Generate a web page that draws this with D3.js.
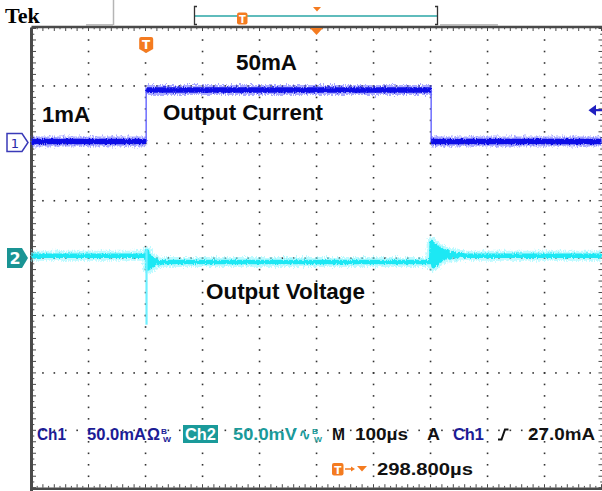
<!DOCTYPE html>
<html>
<head>
<meta charset="utf-8">
<script src="https://cdn.jsdelivr.net/npm/d3@7"></script>
<style>
  html, body { margin: 0; padding: 0; background: #fff; }
  svg { display: block; }
</style>
</head>
<body>
<svg id="scope" width="602" height="491"></svg>
<script>
// ---- acquisition settings ----
const timePerDiv = 100;        // µs per division
const triggerDelay = 298.8;    // µs from trigger point to screen centre
const ch1PerDiv = 50;          // mA per division
const ch2PerDiv = 50;          // mV per division
const triggerLevel = 27;       // mA

// ---- Ch1: load current (mA) vs time from trigger (µs) ----
const ch1Time    = [-201.2, 0, 0, 500, 500, 798.8];
const ch1Current = [1, 1, 50, 50, 1, 1];

// ---- Ch2: output voltage deviation (mV) vs time from trigger (µs) ----
const ch2Time    = [-201.2, 0, 1.5, 3, 5, 7, 10, 13, 17, 22, 30, 500, 501, 504, 507, 510, 513, 516, 520, 524, 528, 533, 538, 544, 550, 560, 798.8];
const ch2Voltage = [2, 2, 6, -9, 2, -8, 0, -6, -2, -4.5, -3.5, -3.5, 14, -7, 11, -5, 9, -2, 7, 0, 6, 0.5, 4.5, 1, 3.5, 2, 2];

// narrow glitch on the rising load edge: time, lowest and highest excursion (mV)
const ch2GlitchTime = [0.6];
const ch2GlitchLow  = [-58];
const ch2GlitchHigh = [8];

const svg = d3.select("#scope");
const W = 602, H = 491;
svg.append("rect").attr("width", W).attr("height", H).attr("fill", "#fff");

// graticule frame: 10 x 8 divisions
const frameL = 31.5, frameR = 601.5, frameT = 28.5, frameB = 487.7;
const gx = d3.scaleLinear().domain([0, 10]).range([frameL, frameR]);
const gy = d3.scaleLinear().domain([0, 8]).range([frameT, frameB]);

// time axis (µs relative to trigger)
const x = d3.scaleLinear()
  .domain([triggerDelay - 5 * timePerDiv, triggerDelay + 5 * timePerDiv])
  .range([frameL, frameR]);
// Ch1 vertical scale (mA), reference marker on division 2
const y1 = d3.scaleLinear().domain([0, ch1Current[2]]).range([142.5, 90]);
// Ch2 vertical scale (mV), reference marker on centre line
const y2 = d3.scaleLinear().domain([0, ch2PerDiv]).range([gy(4), gy(3)]);

const defs = svg.append("defs");
function fuzz(id, freq, scale, seed) {
  const f = defs.append("filter").attr("id", id)
    .attr("filterUnits", "userSpaceOnUse")
    .attr("x", 0).attr("y", 0).attr("width", W).attr("height", H);
  f.append("feTurbulence").attr("type", "fractalNoise")
    .attr("baseFrequency", freq).attr("numOctaves", 2).attr("seed", seed).attr("result", "n");
  f.append("feDisplacementMap").attr("in", "SourceGraphic").attr("in2", "n")
    .attr("scale", scale).attr("xChannelSelector", "R").attr("yChannelSelector", "G");
}
fuzz("fuzzWide", "0.9 0.35", 7, 4);
fuzz("fuzzCore", "0.9 0.5", 3.5, 9);

// ---- graticule dots ----
const grid = svg.append("g").attr("fill", "#333");
for (let k = 1; k <= 9; k++) {
  for (let j = 1; j < 40; j++) {
    grid.append("rect").attr("x", gx(k) - 0.75).attr("y", gy(j / 5) - 0.75)
      .attr("width", 1.6).attr("height", 1.6);
  }
}
for (let k = 1; k <= 7; k++) {
  for (let j = 1; j < 50; j++) {
    grid.append("rect").attr("x", gx(j / 5) - 0.75).attr("y", gy(k) - 0.75)
      .attr("width", 1.6).attr("height", 1.6);
  }
}

// ---- frame and edge ticks ----
const frame = svg.append("g").attr("stroke", "#4a4a4a");
frame.append("line").attr("x1", frameL).attr("x2", frameL).attr("y1", frameT - 1).attr("y2", H).attr("stroke-width", 3);
frame.append("line").attr("x1", frameL).attr("x2", W).attr("y1", frameT - 1.5).attr("y2", frameT - 1.5).attr("stroke-width", 2.5);
frame.append("line").attr("x1", frameL).attr("x2", W).attr("y1", frameB + 1).attr("y2", frameB + 1).attr("stroke-width", 2.5);
for (let j = 0; j <= 100; j++) {
  const len = j % 2 === 0 ? 3.5 : 1.8;
  const xx = gx(j / 10);
  frame.append("line").attr("x1", xx).attr("x2", xx).attr("y1", frameT - 1).attr("y2", frameT - 1 + len).attr("stroke-width", 1);
  frame.append("line").attr("x1", xx).attr("x2", xx).attr("y1", frameB).attr("y2", frameB - len).attr("stroke-width", 1);
}
for (let j = 0; j <= 80; j++) {
  const len = j % 2 === 0 ? 3.5 : 1.8;
  const yy = gy(j / 10);
  frame.append("line").attr("x1", frameL + 1).attr("x2", frameL + 1 + len).attr("y1", yy).attr("y2", yy).attr("stroke-width", 1);
  frame.append("line").attr("x1", W).attr("x2", W - len).attr("y1", yy).attr("y2", yy).attr("stroke-width", 1);
}

// ---- header ----
svg.append("text").attr("x", 5).attr("y", 23)
  .attr("font-family", "Liberation Serif, Times New Roman, serif").attr("font-weight", "bold")
  .attr("font-size", 22).attr("fill", "#000").text("Tek");
svg.append("line").attr("x1", 113.5).attr("x2", 113.5).attr("y1", 0).attr("y2", 25)
  .attr("stroke", "#b5b5b5").attr("stroke-width", 1.5);
svg.append("line").attr("x1", 86).attr("x2", 113).attr("y1", 25).attr("y2", 25)
  .attr("stroke", "#aaa").attr("stroke-width", 1.5);
svg.append("line").attr("x1", 440).attr("x2", 498).attr("y1", 25).attr("y2", 25)
  .attr("stroke", "#aaa").attr("stroke-width", 1.5);

const orange = "#f47b20";
const teal = "#1a9a9a";

// record view bar
const rec = svg.append("g");
rec.append("line").attr("x1", 195).attr("x2", 437).attr("y1", 16).attr("y2", 16)
  .attr("stroke", "#2aa6a6").attr("stroke-width", 1.5);
rec.append("path").attr("d", "M197,6.5 H194.5 V24.5 H197").attr("fill", "none")
  .attr("stroke", "#333").attr("stroke-width", 1.3);
rec.append("path").attr("d", "M435,6.5 H437.5 V24.5 H435").attr("fill", "none")
  .attr("stroke", "#333").attr("stroke-width", 1.3);
rec.append("rect").attr("x", 237).attr("y", 12.5).attr("width", 10.5).attr("height", 12)
  .attr("rx", 2).attr("fill", orange);
rec.append("text").attr("x", 242.3).attr("y", 22.5).attr("text-anchor", "middle")
  .attr("font-family", "DejaVu Sans, sans-serif").attr("font-weight", "bold")
  .attr("font-size", 10).attr("fill", "#fff").text("T");
rec.append("path").attr("d", "M313,7 L321,7 L317,11.5 Z").attr("fill", orange);

// trigger position marker on the top edge
svg.append("path").attr("d", `M${gx(5) - 6.5},28 L${gx(5) + 6.5},28 L${gx(5)},35 Z`).attr("fill", orange);

// trigger point badge over the waveform area
const tx = x(0);
svg.append("path")
  .attr("d", `M${tx - 7},39 Q${tx - 7},37 ${tx - 5},37 H${tx + 5} Q${tx + 7},37 ${tx + 7},39 V49 L${tx},53 L${tx - 7},49 Z`)
  .attr("fill", orange);
svg.append("text").attr("x", tx).attr("y", 49).attr("text-anchor", "middle")
  .attr("font-family", "DejaVu Sans, sans-serif").attr("font-weight", "bold")
  .attr("font-size", 12).attr("fill", "#fff").text("T");

// ---- Ch2 trace ----
const ch2Pts = ch2Time.map((t, i) => [x(t), y2(ch2Voltage[i])]);
const line = d3.line();
const tr2 = svg.append("g").attr("fill", "none").attr("stroke-linejoin", "round");
tr2.append("path").attr("d", line(ch2Pts)).attr("stroke", "#8af7ff")
  .attr("stroke-width", 10).attr("opacity", 0.55).attr("filter", "url(#fuzzWide)");
tr2.append("path").attr("d", line(ch2Pts)).attr("stroke", "#1ae8f4")
  .attr("stroke-width", 4.5).attr("filter", "url(#fuzzCore)");
ch2GlitchTime.forEach((t, i) => {
  tr2.append("line").attr("x1", x(t)).attr("x2", x(t))
    .attr("y1", y2(ch2GlitchHigh[i])).attr("y2", y2(ch2GlitchLow[i]))
    .attr("stroke", "#6ff0ff").attr("stroke-width", 2.2);
});

// ---- Ch1 trace ----
const ch1Pts = ch1Time.map((t, i) => [x(t), y1(ch1Current[i])]);
const tr1 = svg.append("g").attr("fill", "none");
tr1.append("path").attr("d", line(ch1Pts)).attr("stroke", "#7777ff").attr("stroke-width", 1.6);
const runs = [];
for (let i = 0; i < ch1Pts.length - 1; i++) {
  if (ch1Current[i] === ch1Current[i + 1]) runs.push([ch1Pts[i], ch1Pts[i + 1]]);
}
runs.forEach(seg => {
  tr1.append("path").attr("d", line(seg)).attr("stroke", "#5a5aff")
    .attr("stroke-width", 10).attr("opacity", 0.5).attr("filter", "url(#fuzzWide)");
  tr1.append("path").attr("d", line(seg)).attr("stroke", "#1010e6")
    .attr("stroke-width", 5.5).attr("filter", "url(#fuzzCore)");
});

// ---- channel reference markers ----
const m1y = y1(0);
svg.append("path").attr("d", `M7,${m1y - 9} H22 L28,${m1y} L22,${m1y + 9} H7 Z`)
  .attr("fill", "#fff").attr("stroke", "#3a3ab8").attr("stroke-width", 1.5);
svg.append("text").attr("x", 15).attr("y", m1y + 5).attr("text-anchor", "middle")
  .attr("font-family", "DejaVu Sans, sans-serif").attr("font-size", 13)
  .attr("fill", "#2a2aa8").text("1");
const m2y = y2(0);
svg.append("path").attr("d", `M7,${m2y - 10} H22 L28,${m2y} L22,${m2y + 10} H7 Z`)
  .attr("fill", "#1a9494");
svg.append("text").attr("x", 15).attr("y", m2y + 6).attr("text-anchor", "middle")
  .attr("font-family", "DejaVu Sans, sans-serif").attr("font-weight", "bold")
  .attr("font-size", 16).attr("fill", "#fff").text("2");

// trigger level arrow on the right edge
const tly = y1(triggerLevel) - 4;
svg.append("path").attr("d", `M588.5,${tly} L596,${tly - 5.5} L596,${tly + 5.5} Z`).attr("fill", "#2020c0");
svg.append("line").attr("x1", 594).attr("x2", 602).attr("y1", tly).attr("y2", tly)
  .attr("stroke", "#2020c0").attr("stroke-width", 2.2);

// ---- annotations ----
const ann = svg.append("g").attr("font-family", "Liberation Sans, Arial, sans-serif")
  .attr("font-weight", "bold").attr("font-size", 21.5).attr("fill", "#0a0a0a");
function note(x0, y0, s, len) {
  ann.append("text").attr("x", x0).attr("y", y0)
    .attr("textLength", len).attr("lengthAdjust", "spacingAndGlyphs").text(s);
}
note(236, 70, "50mA", 61);
note(42, 122, "1mA", 48);
note(163, 120, "Output Current", 160);
note(206, 299, "Output Voltage", 159);

// ---- status readout ----
const st = svg.append("g").attr("font-family", "Liberation Sans, Arial, sans-serif")
  .attr("font-size", 16).attr("font-weight", "bold");
function txt(x0, y0, s, color, len, size) {
  const t = st.append("text").attr("x", x0).attr("y", y0).attr("fill", color).text(s);
  if (len) t.attr("textLength", len).attr("lengthAdjust", "spacingAndGlyphs");
  if (size) t.attr("font-size", size);
  return t;
}
const blue = "#1c1c96";
txt(37, 440, "Ch1", blue, 29);
txt(87, 440, "50.0mA", blue, 59);
txt(147, 440, "Ω", blue, 13);
txt(161, 434, "B", blue, 6, 8);
txt(163, 442, "W", blue, 8, 8);
st.append("rect").attr("x", 183).attr("y", 425).attr("width", 35).attr("height", 18).attr("fill", teal);
txt(185, 440, "Ch2", "#fff", 31);
txt(233, 440, "50.0mV", teal, 64);
txt(299, 440, "∿", teal, 11);
txt(312, 434, "B", teal, 6, 8);
txt(314, 442, "W", teal, 8, 8);
txt(332, 440, "M", "#111", 13);
txt(355, 440, "100µs", "#111", 53);
txt(427, 440, "A", "#111", 13);
txt(453, 440, "Ch1", blue, 31);
st.append("path").attr("d", "M498,439.5 H501.5 L505,429.5 H508.5").attr("fill", "none")
  .attr("stroke", "#111").attr("stroke-width", 2);
txt(528, 440, "27.0mA", "#111", 67);

// trigger delay readout
st.append("rect").attr("x", 332).attr("y", 463).attr("width", 11.5).attr("height", 12.5)
  .attr("rx", 2).attr("fill", orange);
st.append("text").attr("x", 337.8).attr("y", 473.5).attr("text-anchor", "middle")
  .attr("font-family", "DejaVu Sans, sans-serif").attr("font-weight", "bold")
  .attr("font-size", 10.5).attr("fill", "#fff").text("T");
st.append("line").attr("x1", 345).attr("x2", 352).attr("y1", 469).attr("y2", 469)
  .attr("stroke", orange).attr("stroke-width", 1.5);
st.append("path").attr("d", "M351,466.5 L355,469 L351,471.5 Z").attr("fill", orange);
st.append("path").attr("d", "M357,466 L367,466 L362,471.5 Z").attr("fill", orange);
txt(377, 475, "298.800µs", "#111", 96);
</script>
</body>
</html>
